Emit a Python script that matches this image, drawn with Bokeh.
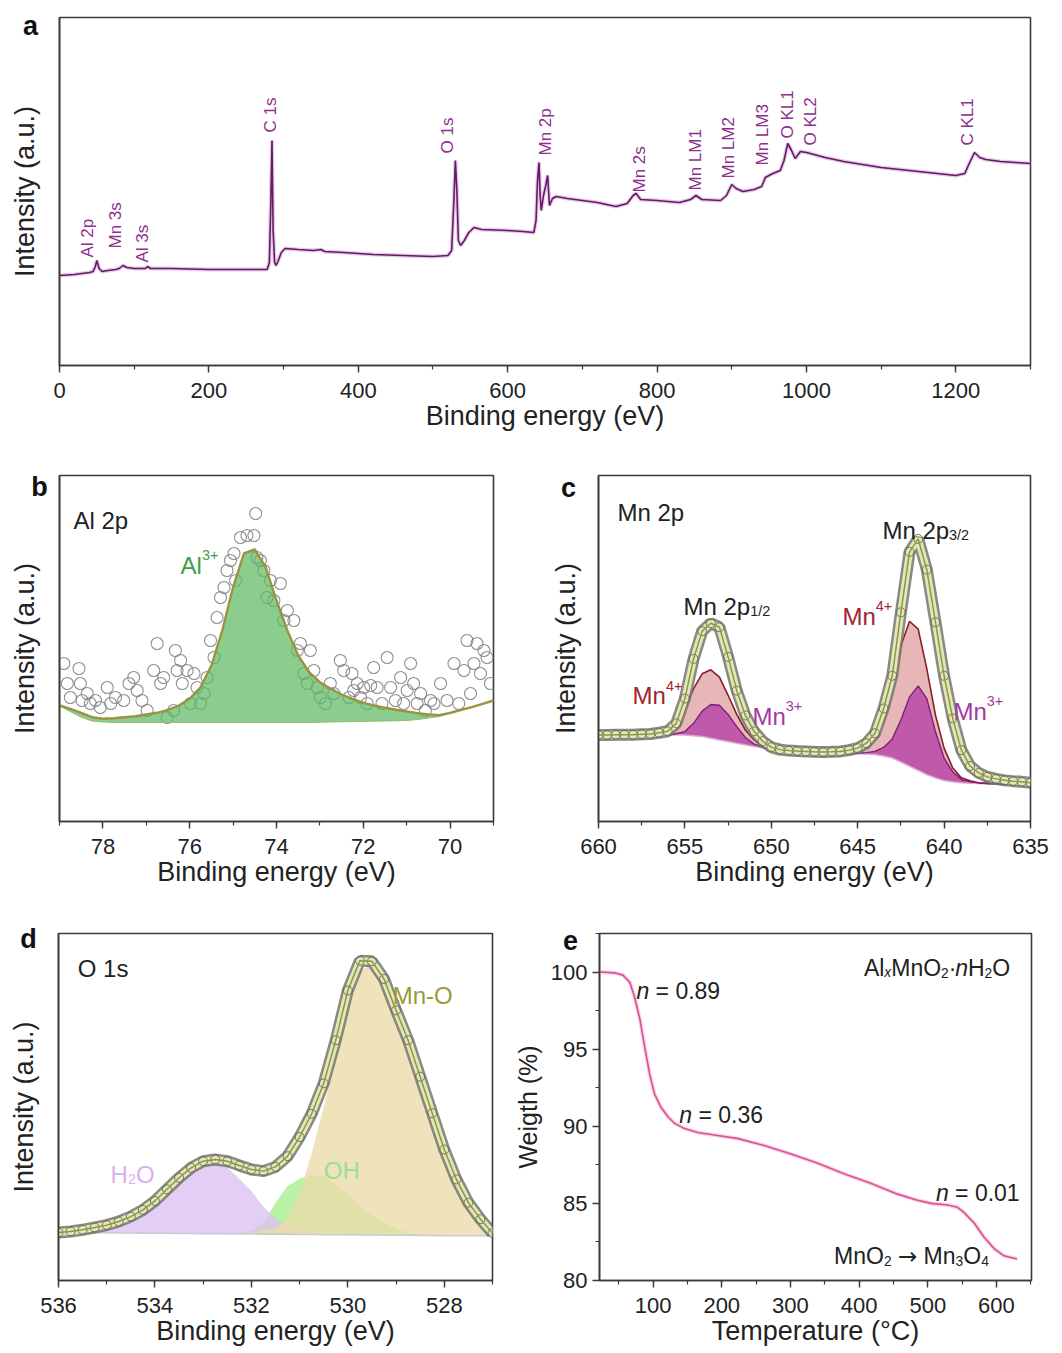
from math import pi

from bokeh.core.properties import value
from bokeh.embed import file_html
from bokeh.layouts import column, row
from bokeh.models import ColumnDataSource, FixedTicker, Label, Range1d, SingleIntervalTicker
from bokeh.plotting import figure
from bokeh.resources import INLINE

# ---------------- (a) XPS survey ----------------
survey_energy = [0, 20, 30, 40, 45, 48, 50, 53, 57, 65, 75, 80, 85, 90, 100, 115, 118, 122, 150, 200,
                 250, 278, 281, 283, 284.5, 286, 288, 290, 293, 297, 302, 320, 340, 350, 355, 380, 420,
                 460, 500, 520, 525, 528, 530, 532, 534, 537, 542, 548, 555, 565, 600, 620, 635, 638,
                 640, 642, 643.5, 645, 648, 651, 653.5, 656, 660, 665, 680, 700, 720, 745, 760, 768,
                 772, 778, 800, 830, 845, 852, 860, 885, 893, 900, 906, 915, 930, 940, 945, 955, 965,
                 970, 975, 980, 985, 992, 1000, 1025, 1050, 1075, 1100, 1125, 1150, 1175, 1200, 1212,
                 1218, 1225, 1232, 1240, 1260, 1280, 1300]
survey_counts = [90, 91, 92, 93, 94, 99, 105, 97, 94, 95, 96, 97, 100, 98, 97, 97, 99, 97, 97, 96,
                 96, 96, 103, 165, 225, 135, 103, 100, 105, 113, 117, 116, 115, 116, 114, 113, 111,
                 110, 109, 110, 115, 165, 205, 175, 125, 120, 125, 133, 138, 136, 135, 134, 133, 145,
                 185, 203, 170, 155, 170, 180, 190, 160, 167, 169, 167, 165, 163, 159, 162, 170,
                 172, 166, 165, 163, 166, 170, 166, 165, 170, 181, 177, 174, 176, 179, 188, 192, 195,
                 205, 222, 215, 207, 214, 213, 208, 204, 201, 198, 196, 194, 192, 190, 192,
                 202, 213, 208, 206, 204, 203, 202]
survey_peaks = ["Al 2p", "Mn 3s", "Al 3s", "C 1s", "O 1s", "Mn 2p", "Mn 2s",
                "Mn LM1", "Mn LM2", "Mn LM3", "O KL1", "O KL2", "C KL1"]

# ---------------- (b) Al 2p ----------------
al_raw_energy = [78.90, 78.82, 78.75, 78.55, 78.52, 78.48, 78.36, 78.29, 78.17, 78.06, 77.90, 77.82,
                 77.71, 77.52, 77.40, 77.29, 77.21, 77.10, 76.98, 76.83, 76.75, 76.67, 76.60, 76.52,
                 76.37, 76.33, 76.29, 76.21, 76.17, 76.06, 75.98, 75.90, 75.83, 75.75, 75.67, 75.60,
                 75.52, 75.44, 75.37, 75.29, 75.21, 75.14, 75.06, 74.98, 74.94, 74.83, 74.68, 74.52,
                 74.48, 74.45, 74.37, 74.29, 74.22, 74.14, 74.06, 73.91, 73.83, 73.75, 73.60, 73.52,
                 73.45, 73.37, 73.29, 73.22, 73.14, 73.06, 72.99, 72.87, 72.76, 72.68, 72.53, 72.45,
                 72.33, 72.26, 72.22, 72.14, 72.06, 71.99, 71.91, 71.83, 71.76, 71.68, 71.57, 71.45,
                 71.37, 71.26, 71.14, 71.07, 70.99, 70.91, 70.84, 70.76, 70.68, 70.57, 70.45, 70.37,
                 70.22, 70.07, 69.91, 69.80, 69.68, 69.61, 69.53, 69.45, 69.38, 69.30, 69.22, 69.15,
                 69.07]
al_raw_counts = [158, 138, 124, 153, 138, 121, 128, 118, 121, 114, 134, 118,
                 124, 121, 138, 144, 131, 121, 111, 151, 178, 138, 144, 104,
                 111, 171, 151, 161, 138, 151, 118, 148, 134, 118, 128, 144,
                 181, 164, 204, 224, 234, 251, 261, 268, 241, 284, 286, 286,
                 308, 264, 261, 251, 224, 241, 221, 238, 201, 211, 201, 171,
                 178, 148, 138, 171, 151, 134, 124, 118, 138, 128, 161, 151,
                 124, 148, 131, 138, 124, 134, 118, 136, 154, 134, 118, 164,
                 134, 121, 144, 118, 131, 158, 138, 118, 128, 111, 121, 118,
                 138, 121, 158, 118, 151, 181, 128, 158, 178, 148, 171, 164,
                 138]
al_fit_energy = [79.0, 78.75, 78.5, 78.25, 78.0, 77.75, 77.5, 77.25, 77.0, 76.75, 76.5, 76.25, 76.0,
                 75.75, 75.5, 75.25, 75.0, 74.75, 74.5, 74.25, 74.0, 73.75, 73.5, 73.25, 73.0, 72.75,
                 72.5, 72.25, 72.0, 71.75, 71.5, 71.25, 71.0, 70.75, 70.5, 70.25, 70.0, 69.75, 69.5,
                 69.25, 69.0]
al_fit_counts = [116, 112.7, 108.7, 104.3, 102.7, 103.3, 104.3, 105.3, 107, 108.7, 111.7, 116, 122.7,
                 134.3, 156, 191, 234.3, 268, 272, 254.3, 221, 191, 166, 149.3, 139.3, 132.7,
                 127, 122.7, 118.7, 116, 113.7, 111.7, 110, 108.3, 107, 106.3, 108.7, 111.7, 114.3,
                 117.7, 121]
al_background = [116, 110, 104.5, 100.5, 99.5, 99, 99, 99, 99, 99, 99, 99, 99,
                 99, 99, 99, 99, 99, 99, 99, 99, 99, 99, 99.2, 99.4, 99.6,
                 99.8, 100, 100.2, 100.4, 100.6, 100.8, 101, 102, 103.5, 105, 108, 111, 114,
                 117.5, 121]

# ---------------- (c) Mn 2p ----------------
mn_energy = [660.0, 659.5, 659.0, 658.5, 658.0, 657.5, 657.0, 656.5, 656.0, 655.5,
             655.0, 654.5, 654.0, 653.5, 653.0, 652.5, 652.0, 651.5, 651.0, 650.5,
             650.0, 649.5, 649.0, 648.5, 648.0, 647.5, 647.0, 646.5, 646.0, 645.5,
             645.0, 644.5, 644.0, 643.5, 643.0, 642.5, 642.0, 641.5, 641.0, 640.5,
             640.0, 639.5, 639.0, 638.5, 638.0, 637.5, 637.0, 636.5, 636.0, 635.5, 635.0]
mn_counts = [87.3, 87.3, 87.5, 87.5, 87.5, 88.0, 88.3, 89.5, 91.0, 99.0,
             124.0, 164.0, 192.0, 200.0, 196.0, 166.0, 132.0, 107.0, 91.0, 81.0,
             75.0, 72.5, 71.5, 71.0, 70.7, 70.3, 70.0, 70.3, 70.7, 72.0,
             74.0, 79.0, 89.0, 114.0, 147.0, 211.0, 272.0, 285.0, 254.0, 201.0,
             147.0, 104.0, 72.0, 56.0, 49.0, 45.0, 43.0, 41.5, 40.7, 40.0, 39.0]
mn_background = [87.3, 87.3, 87.3, 87.3, 87.3, 87.3, 87.3, 87.3, 87.3, 87.3,
                 87.3, 86.5, 85.7, 84.0, 82.3, 80.7, 79.0, 77.3, 75.7, 74.3,
                 73.0, 72.0, 71.0, 70.5, 70.0, 69.7, 69.5, 69.3, 69.0, 68.7,
                 68.4, 68.0, 67.5, 66.0, 64.0, 60.0, 55.7, 51.5, 47.3, 44.0,
                 41.3, 40.0, 39.0, 38.6, 38.3, 38.1, 38.0, 37.8, 37.6, 37.4, 37.3]
mn4_counts = [87.3, 87.3, 87.3, 87.3, 87.3, 87.3, 87.3, 87.8, 90.0, 97.3,
              114.0, 134.0, 149.0, 153.0, 145.7, 127.3, 108.0, 92.3, 82.3, 77.3,
              74.0, 72.5, 71.5, 70.8, 70.3, 70.0, 69.8, 69.6, 69.5, 70.0,
              70.7, 75.7, 87.3, 110.7, 140.7, 177.3, 202.0, 194.0, 154.0, 107.3,
              74.0, 54.0, 44.0, 41.0, 39.0, 38.5, 38.1, 37.8, 37.6, 37.4, 37.3]
mn3_counts = [87.3, 87.3, 87.3, 87.3, 87.3, 87.3, 87.3, 87.3, 87.3, 88.5,
              90.7, 99.0, 111.3, 118.0, 117.3, 108.0, 95.7, 84.7, 78.0, 75.0,
              73.2, 72.0, 71.0, 70.5, 70.0, 69.7, 69.5, 69.3, 69.0, 68.8,
              68.8, 69.5, 70.7, 74.7, 83.3, 102.3, 125.7, 136.7, 124.0, 90.7,
              64.0, 50.0, 42.3, 40.0, 39.0, 38.4, 38.1, 37.8, 37.6, 37.4, 37.3]

# ---------------- (d) O 1s ----------------
o_energy = [536.0, 535.75, 535.5, 535.25, 535.0, 534.75, 534.5, 534.25, 534.0, 533.75,
            533.5, 533.25, 533.0, 532.75, 532.5, 532.25, 532.0, 531.75, 531.5, 531.25,
            531.0, 530.75, 530.5, 530.25, 530.0, 529.75, 529.5, 529.25, 529.0, 528.75,
            528.5, 528.25, 528.0, 527.75, 527.5, 527.25, 527.0]
o_counts = [48.3, 49.3, 51.0, 53.3, 55.7, 59.3, 64.3, 71.0, 80.0, 91.7,
            103.3, 113.3, 120.0, 121.7, 120.0, 115.7, 111.7, 110.0, 114.3, 125.0,
            144.3, 167.7, 198.3, 241.7, 291.7, 321.7, 321.0, 303.3, 271.7, 241.7,
            205.0, 168.3, 131.7, 101.7, 78.3, 61.7, 47.7]
o_background = [48.3, 48.2, 48.1, 48.0, 47.9, 47.8, 47.7, 47.6, 47.5, 47.4,
                47.3, 47.2, 47.1, 47.0, 46.9, 46.8, 46.7, 46.6, 46.5, 46.4,
                46.3, 46.2, 46.1, 46.0, 45.9, 45.8, 45.7, 45.6, 45.5, 45.4,
                45.3, 45.2, 45.1, 45.0, 45.0, 45.0, 45.0]
o_h2o = [48.3, 49.2, 50.8, 53.0, 55.5, 59.0, 64.0, 70.5, 79.0, 90.0,
         102.0, 112.0, 118.0, 118.0, 114.0, 102.0, 90.0, 74.0, 62.0, 55.0,
         51.0, 48.5, 47.3, 46.5, 46.0, 45.8, 45.7, 45.6, 45.5, 45.4,
         45.3, 45.2, 45.1, 45.0, 45.0, 45.0, 45.0]
o_oh = [48.3, 48.2, 48.1, 48.0, 47.9, 47.8, 47.7, 47.6, 47.5, 47.4,
        47.3, 47.2, 47.1, 47.0, 46.9, 47.5, 50.0, 58.0, 78.0, 95.0,
        102.3, 106.3, 104.3, 96.7, 86.7, 75.0, 65.0, 58.3, 51.7, 48.3,
        46.7, 45.6, 45.1, 45.0, 45.0, 45.0, 45.0]
o_mno = [48.3, 48.2, 48.1, 48.0, 47.9, 47.8, 47.7, 47.6, 47.5, 47.4,
         47.3, 47.2, 47.1, 47.0, 46.9, 46.8, 48.3, 51.0, 53.0, 62.0,
         88.0, 128.0, 175.0, 223.0, 275.0, 311.0, 318.0, 300.0, 270.0, 240.0,
         203.0, 166.0, 130.0, 100.0, 76.7, 60.0, 46.7]

# ---------------- (e) TGA ----------------
tga_temp = [22, 44, 56, 66, 73, 81, 88, 95, 102, 112, 122, 131, 146, 165, 194, 224, 262, 301,
            340, 379, 417, 456, 485, 505, 529, 543, 553, 568, 582, 597, 611, 630]
tga_weight = [100, 99.95, 99.8, 99.35, 98.4, 96.9, 95.1, 93.4, 92.1, 91.2, 90.6, 90.2, 89.85,
              89.6, 89.4, 89.2, 88.75, 88.2, 87.6, 86.9, 86.3, 85.6, 85.2, 85.0, 84.9, 84.75,
              84.4, 83.7, 82.8, 82.05, 81.6, 81.4]
tga_steps = ["0.89", "0.36", "0.01"]

# ---------------- styling helpers ----------------
FONT = "Liberation Sans"
AX = "#3a3a3a"
TXT = "#222222"
NB = "\u00a0"  # non-breaking space keeps leading blanks in SVG text

# approximate advance widths (em) of the sans face, used to chain sub/superscripts
ADV = {" ": .278, NB: .278, "A": .667, "l": .222, "x": .5, "M": .833, "n": .556, "O": .778,
       "H": .722, "·": .278, "=": .584, ".": .278, "→": .838, "p": .556, "/": .278, "+": .584,
       "s": .5, "-": .333}


def advance(s, size):
    return sum(ADV.get(ch, .556) for ch in s) * size


def rich(p, x, y, parts, color, size):
    """Place a run of text pieces (normal / italic / sub / sup / arrow) starting at data point (x, y)."""
    off = 0.0
    for txt, kind in parts:
        small = kind in ("sub", "sup", "isub")
        fs = size * (0.6 if small else 1.0)
        dy = {"sub": -0.2 * size, "isub": -0.2 * size, "sup": 0.42 * size}.get(kind, 0.0)
        style = "italic" if kind in ("i", "isub") else "normal"
        face = "DejaVu Sans" if kind == "arrow" else FONT
        p.add_layout(Label(x=x, y=y, x_offset=off, y_offset=dy, text=txt,
                           text_font=face, text_font_size=f"{fs:.1f}px", text_font_style=style,
                           text_color=color, text_align="left", text_baseline="alphabetic"))
        off += advance(txt, fs)


def panel_letter(p, letter, cx, cy, side):
    # kept in a side panel (canvas coordinates) so it is not clipped to the plotting frame
    p.add_layout(Label(x=cx, y=cy, x_units="canvas", y_units="canvas", text=letter,
                       text_font=FONT, text_font_size="27px", text_font_style="bold",
                       text_color="#111111", text_align="center", text_baseline="middle"),
                 side)


def make_fig(w, h, xr, yr, left, right, top, bottom, xlabel, ylabel,
             xtick, ytick=None, ylabel_size="27px", ylabel_standoff=20):
    p = figure(width=w, height=h, x_range=xr, y_range=yr, output_backend="svg",
               toolbar_location=None, min_border_left=left, min_border_right=right,
               min_border_top=top, min_border_bottom=bottom)
    p.xgrid.visible = False
    p.ygrid.visible = False
    p.background_fill_color = "white"
    p.border_fill_color = "white"
    p.outline_line_color = AX
    p.outline_line_width = 1.6
    p.outline_line_alpha = 1.0
    for ax in p.axis:
        ax.axis_line_color = AX
        ax.axis_line_width = 1.6
        ax.major_tick_line_color = AX
        ax.major_tick_line_width = 1.4
        ax.minor_tick_line_color = AX
        ax.minor_tick_line_width = 1.2
        ax.major_tick_in = 0
        ax.major_tick_out = 7
        ax.minor_tick_in = 0
        ax.minor_tick_out = 4
        ax.major_label_text_font = FONT
        ax.major_label_text_font_size = "22px"
        ax.major_label_text_color = TXT
        ax.axis_label_text_font = FONT
        ax.axis_label_text_font_style = "normal"
        ax.axis_label_text_color = TXT
    p.xaxis.ticker = xtick
    p.xaxis.axis_label = xlabel
    p.xaxis.axis_label_text_font_size = "27px"
    p.xaxis.major_label_standoff = 10
    p.xaxis.axis_label_standoff = 0
    p.yaxis.axis_label = ylabel
    p.yaxis.axis_label_text_font_size = ylabel_size
    p.yaxis.axis_label_standoff = ylabel_standoff
    if ytick is None:
        p.yaxis.ticker = FixedTicker(ticks=[])
    else:
        p.yaxis.ticker = ytick
        p.yaxis.major_label_standoff = 5
    return p


BE = "Binding energy (eV)"
INT = "Intensity (a.u.)"

# ---------------- panel a ----------------
pa = make_fig(1062, 450, Range1d(0, 1300), Range1d(0, 348), 59, 32, 17, 85, BE, INT,
              SingleIntervalTicker(interval=200, num_minor_ticks=2))
pa.line(survey_energy, survey_counts, line_color="#d7a6d7", line_width=4, line_alpha=0.6)
pa.line(survey_energy, survey_counts, line_color="#641a66", line_width=1.6)
tag_energy = [38, 75, 111, 282, 519, 650, 777, 851, 896, 941, 975, 1006, 1216]
tag_level = [108, 117, 103, 233, 212, 210, 173, 175, 187, 200, 227, 220, 220]
pa.text(x="x", y="y", text="t",
        source=ColumnDataSource(dict(x=tag_energy, y=tag_level, t=survey_peaks)),
        angle=pi / 2, text_font=value(FONT), text_font_size=value("17px"),
        text_color="#8e2f8e", text_align="left", text_baseline="middle")
panel_letter(pa, "a", 30, 25, "right")

# ---------------- panel b ----------------
pb = make_fig(530, 440, Range1d(79, 69), Range1d(0, 346), 59, 37, 25, 69, BE, INT,
              SingleIntervalTicker(interval=2, num_minor_ticks=2))
pb.scatter(al_raw_energy, al_raw_counts, marker="circle", size=12, fill_color=None,
           line_color="#858585", line_width=1.1, line_alpha=0.9)
pb.varea(x=al_fit_energy, y1=al_background, y2=al_fit_counts, fill_color="#5dba62", fill_alpha=0.72)
pb.line(al_fit_energy, al_background, line_color="#8fbf70", line_width=1.2)
pb.line(al_fit_energy, al_fit_counts, line_color="#9a9440", line_width=2.4)
rich(pb, 78.68, 301, [("Al 2p", "n")], TXT, 24)
rich(pb, 76.21, 256, [("Al", "n"), ("3+", "sup")], "#3b9e46", 24)
panel_letter(pb, "b", 39, 36, "right")

# ---------------- panel c ----------------
pc = make_fig(532, 440, Range1d(660, 635), Range1d(0, 349), 68, 32, 25, 66, BE, INT,
              SingleIntervalTicker(interval=5, num_minor_ticks=2), ylabel_standoff=18)
pc.varea(x=mn_energy, y1=mn_background, y2=mn4_counts, fill_color="#e6b3b3", fill_alpha=0.95)
pc.varea(x=mn_energy, y1=mn_background, y2=mn3_counts, fill_color="#bc4fa8", fill_alpha=0.9)
pc.line(mn_energy, mn_background, line_color="#d9a8d4", line_width=1.5)
pc.line(mn_energy, mn4_counts, line_color="#8c1b2b", line_width=1.6)
pc.line(mn_energy, mn3_counts, line_color="#7a2278", line_width=1.4)
pc.line(mn_energy, mn_counts, line_color="#76766a", line_width=12, line_alpha=0.85)
pc.line(mn_energy, mn_counts, line_color="#e2e7b8", line_width=7)
pc.scatter(mn_energy, mn_counts, marker="circle", size=9, fill_color=None,
           line_color="#707062", line_width=1.0)
pc.line(mn_energy, mn_counts, line_color="#8d9640", line_width=1.5)
rich(pc, 658.9, 312, [("Mn 2p", "n")], TXT, 24)
rich(pc, 655.08, 217, [("Mn 2p", "n"), ("1/2", "sub")], TXT, 24)
rich(pc, 643.57, 294, [("Mn 2p", "n"), ("3/2", "sub")], TXT, 24)
rich(pc, 658.03, 127, [("Mn", "n"), ("4+", "sup")], "#a3232f", 24)
rich(pc, 645.88, 207, [("Mn", "n"), ("4+", "sup")], "#a3232f", 24)
rich(pc, 651.09, 106, [("Mn", "n"), ("3+", "sup")], "#a23aa2", 24)
rich(pc, 639.46, 111, [("Mn", "n"), ("3+", "sup")], "#a23aa2", 24)
panel_letter(pc, "c", 38, 37, "right")

# ---------------- panel d ----------------
pd_ = make_fig(510, 463, Range1d(536, 527), Range1d(0, 349), 58, 18, 43, 71, BE, INT,
               SingleIntervalTicker(interval=2, num_minor_ticks=2))
pd_.varea(x=o_energy, y1=o_background, y2=o_oh, fill_color="#a8ee8e", fill_alpha=0.8)
pd_.varea(x=o_energy, y1=o_background, y2=o_h2o, fill_color="#dcc2f2", fill_alpha=0.8)
pd_.varea(x=o_energy, y1=o_background, y2=o_mno, fill_color="#ecdcaa", fill_alpha=0.8)
pd_.line(o_energy, o_background, line_color="#c9c9d6", line_width=1.5)
pd_.line(o_energy, o_counts, line_color="#76766a", line_width=12, line_alpha=0.85)
pd_.line(o_energy, o_counts, line_color="#e2e7b8", line_width=7)
pd_.scatter(o_energy, o_counts, marker="circle", size=9, fill_color=None,
            line_color="#707062", line_width=1.0)
pd_.line(o_energy, o_counts, line_color="#8d9640", line_width=1.5)
rich(pd_, 535.6, 314, [("O 1s", "n")], TXT, 24)
rich(pd_, 529.07, 287, [("Mn-O", "n")], "#9c9a38", 24)
rich(pd_, 534.92, 107, [("H", "n"), ("2", "sub"), ("O", "n")], "#dcaef0", 24)
rich(pd_, 530.5, 111, [("OH", "n")], "#98e08f", 24)
panel_letter(pd_, "d", 28, 48, "above")

# ---------------- panel e ----------------
pe = make_fig(552, 463, Range1d(22, 651), Range1d(80, 102.5), 88, 31, 43, 73,
              "Temperature (°C)", "Weigth (%)",
              SingleIntervalTicker(interval=100, num_minor_ticks=2),
              ytick=SingleIntervalTicker(interval=5, num_minor_ticks=2),
              ylabel_size="25px", ylabel_standoff=6)
pe.line(tga_temp, tga_weight, line_color="#f2a6c8", line_width=4, line_alpha=0.5)
pe.line(tga_temp, tga_weight, line_color="#de4f93", line_width=1.6)
rich(pe, 407, 100.26, [("Al", "n"), ("x", "isub"), ("MnO", "n"), ("2", "sub"), ("·", "n"),
                       ("n", "i"), ("H", "n"), ("2", "sub"), ("O", "n")], TXT, 23)
step_anchor = [(75.7, 98.77), (138.2, 90.71), (511.8, 85.65)]
for (tx, wy), nval in zip(step_anchor, tga_steps):
    rich(pe, tx, wy, [("n", "i"), (NB + "=" + NB + nval, "n")], TXT, 23)
rich(pe, 363.5, 81.56, [("MnO", "n"), ("2", "sub"), (NB, "n"), ("→", "arrow"), (NB + "Mn", "n"),
                        ("3", "sub"), ("O", "n"), ("4", "sub")], TXT, 23)
panel_letter(pe, "e", 60, 50, "right")

layout = column(pa, row(pb, pc), row(pd_, pe))
open("out.html", "w").write(file_html(layout, INLINE))
